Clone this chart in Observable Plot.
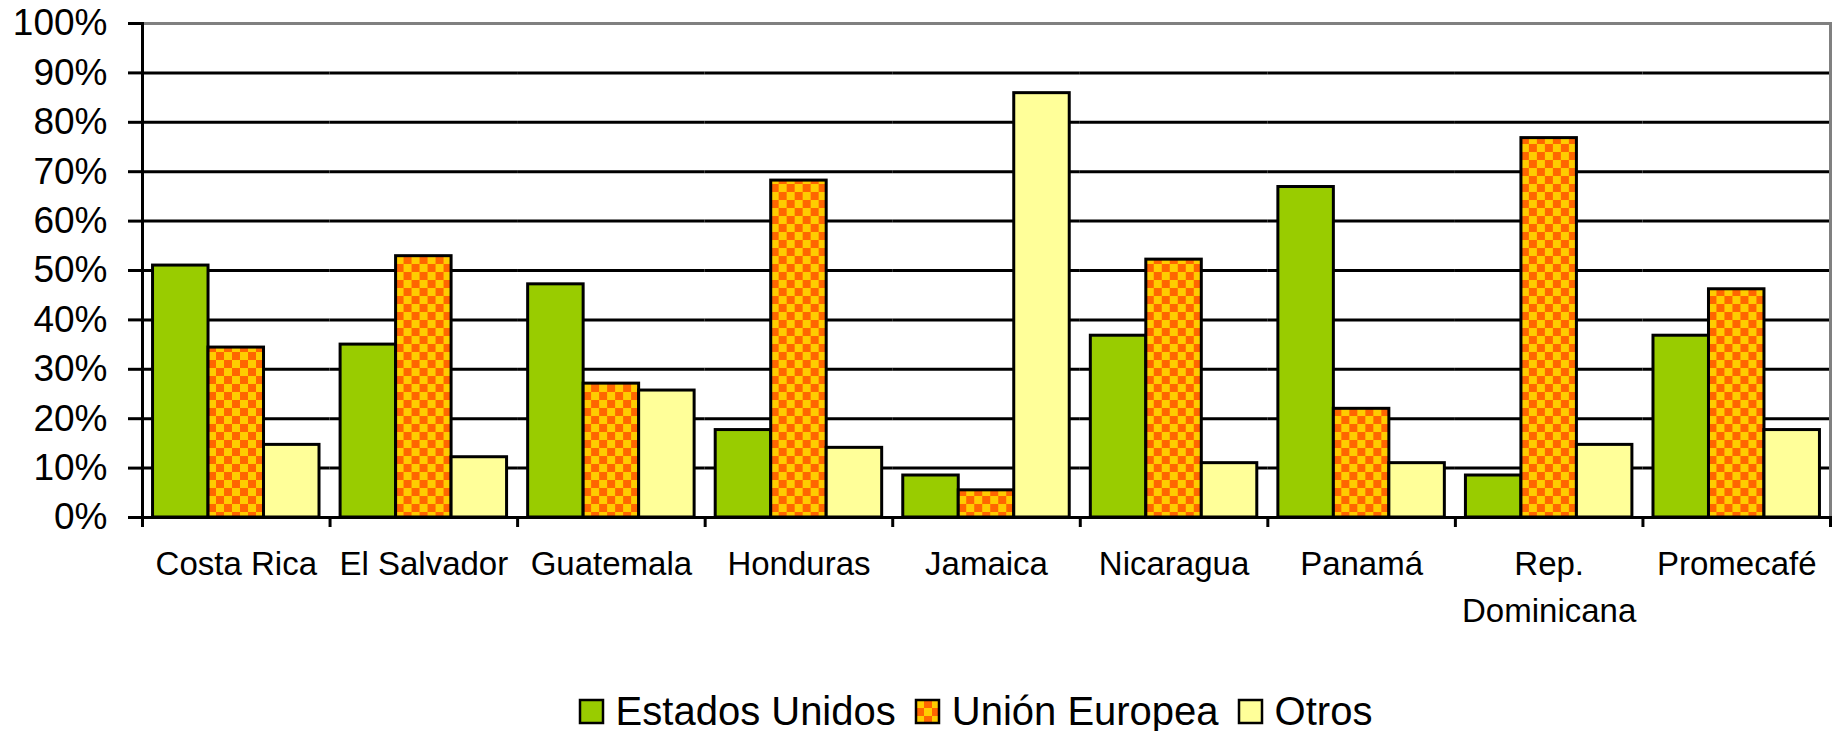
<!DOCTYPE html>
<html>
<head>
<meta charset="utf-8">
<script src="https://cdn.jsdelivr.net/npm/d3@7"></script>
<script src="https://cdn.jsdelivr.net/npm/@observablehq/plot@0.6"></script>
<style>
  html, body { margin: 0; padding: 0; background: white; }
  #chart svg { display: block; }
  #legend { padding-left: 142px; padding-right: 5px; margin-top: 29px; }
  .lg-swatches { justify-content: center; font-family: "Liberation Sans", Arial, sans-serif !important; font-size: 40px !important; color: black; margin: 0 !important; }
  .lg-swatch { margin-right: 20px !important; }
  .lg-swatch > svg { margin-right: 13px !important; }
  .lg-swatch svg rect { stroke: black; stroke-width: 2.5px; }
</style>
</head>
<body>
<div id="chart"></div>
<div id="legend"></div>
<script>
const countries = ["Costa Rica", "El Salvador", "Guatemala", "Honduras", "Jamaica", "Nicaragua", "Panamá", "Rep. Dominicana", "Promecafé"];
const xTickLabels = ["Costa Rica", "El Salvador", "Guatemala", "Honduras", "Jamaica", "Nicaragua", "Panamá", "Rep.\nDominicana", "Promecafé"];
const series = ["Estados Unidos", "Unión Europea", "Otros"];
const estadosUnidos = [51, 35, 47.2, 17.7, 8.5, 36.8, 66.9, 8.5, 36.8];
const unionEuropea = [34.4, 52.9, 27.1, 68.2, 5.5, 52.2, 22, 76.8, 46.2];
const otros = [14.7, 12.2, 25.7, 14.1, 85.9, 11, 11, 14.7, 17.7];
const yTicks = [0, 10, 20, 30, 40, 50, 60, 70, 80, 90, 100];

const seriesValues = [estadosUnidos, unionEuropea, otros];
const data = countries.flatMap((c, i) => series.map((s, j) => ({country: c, series: s, value: seriesValues[j][i]})));

const W = 1835, H = 660, ML = 142, MR = 5, MT = 23, MB = 143;
const half = (W - ML - MR) / countries.length / 2;

const chart = Plot.plot({
  width: W, height: H,
  marginLeft: ML, marginRight: MR, marginTop: MT, marginBottom: MB,
  style: {fontFamily: "'Liberation Sans', Arial, sans-serif", color: "black", background: "white"},
  fx: {domain: countries, padding: 0, round: false, label: null},
  x: {domain: series, paddingInner: 0, paddingOuter: 0.19, round: false, axis: null},
  y: {domain: [0, 100], label: null},
  color: {domain: series, range: ["#99CC00", "url(#checker)", "#FFFF99"]},
  marks: [
    Plot.gridY({ticks: yTicks, stroke: "black", strokeOpacity: 1, strokeWidth: 3}),
    Plot.barY(data, {fx: "country", x: "series", y: "value", fill: "series", stroke: "black", strokeWidth: 3}),
    Plot.frame({facet: "super", stroke: "#808080", strokeWidth: 3}),
    Plot.frame({facet: "super", anchor: "left", stroke: "black", strokeWidth: 3}),
    Plot.frame({facet: "super", anchor: "bottom", stroke: "black", strokeWidth: 3}),
    Plot.axisY({ticks: yTicks, tickFormat: d => d + "%", tickSize: 14, tickPadding: 21, fontSize: 37, strokeWidth: 3, label: null}),
    Plot.axisFx({anchor: "bottom", tickSize: 0, tickPadding: 25, fontSize: 33, lineHeight: 1.4, label: null,
      tickFormat: d => xTickLabels[countries.indexOf(d)]}),
    Plot.axisFx({anchor: "bottom", tickSize: 10, text: null, dx: -half, strokeWidth: 3, label: null}),
    Plot.axisFx({anchor: "bottom", ticks: [countries[countries.length - 1]], tickSize: 10, text: null, dx: half, strokeWidth: 3, label: null})
  ]
});

// checkered fill pattern used for "Unión Europea"
const defs = d3.select(chart).insert("defs", ":first-child");
const pat = defs.append("pattern").attr("id", "checker").attr("patternUnits", "userSpaceOnUse")
  .attr("width", 16).attr("height", 16);
pat.append("rect").attr("width", 16).attr("height", 16).attr("fill", "#FF6600");
pat.append("rect").attr("width", 8).attr("height", 8).attr("fill", "#FFCC00");
pat.append("rect").attr("x", 8).attr("y", 8).attr("width", 8).attr("height", 8).attr("fill", "#FFCC00");

document.getElementById("chart").appendChild(chart);
const legend = chart.legend("color", {className: "lg", swatchWidth: 23, swatchHeight: 23});
document.getElementById("legend").appendChild(legend);
</script>
</body>
</html>
